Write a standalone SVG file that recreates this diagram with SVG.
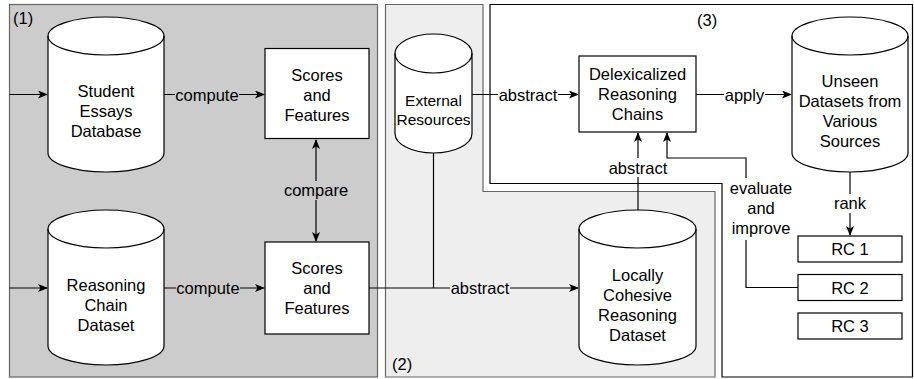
<svg xmlns="http://www.w3.org/2000/svg" width="914" height="379" viewBox="0 0 914 379">
<defs>
<style>
text{font-family:"Liberation Sans",Arial,Helvetica,sans-serif;font-size:16.5px;fill:#000;text-anchor:middle}
.node{fill:#fff;stroke:#000;stroke-width:1.2}
.arc{fill:none;stroke:#000;stroke-width:1.2}
.edge{fill:none;stroke:#000;stroke-width:1.2}
.bg1{fill:#cccccc}
.bg2{fill:#eeeeee}
.bg3{fill:#ffffff}
.lbl{text-anchor:start}
.small{font-size:15.5px}
</style>
<marker id="arr" viewBox="0 0 10 8" markerWidth="10" markerHeight="8" refX="9" refY="4" orient="auto-start-reverse" markerUnits="userSpaceOnUse">
<path d="M0,0 L10,4 L0,8 L2.5,4 Z" fill="#000"/>
</marker>
</defs>

<g id="regions">
<rect id="region1" x="9.5" y="4.5" width="368" height="372.5" fill="#cccccc" stroke="#666666" stroke-width="1.2"/>
<polygon id="region2" points="385.5,4.5 483,4.5 483,191.5 715,191.5 715,377 385.5,377" fill="#eeeeee" stroke="#666666" stroke-width="1.2"/>
<polygon id="region3" points="490,4.5 912.5,4.5 912.5,377 722,377 722,183.5 490,183.5" fill="#ffffff" stroke="#000000" stroke-width="1.2"/>
<text class="lbl" x="13" y="24">(1)</text>
<text class="lbl" x="392" y="370">(2)</text>
<text class="lbl" x="697" y="26">(3)</text>
</g>

<g id="connectors">
<path class="edge" d="M9.5,94.5 L47,94.5" marker-end="url(#arr)"/>
<path class="edge" d="M9.5,288 L47,288" marker-end="url(#arr)"/>
<path class="edge" d="M164,94.5 L264,94.5" marker-end="url(#arr)"/>
<rect class="bg1" x="175" y="85" width="64" height="19"/>
<text x="207" y="100.5">compute</text>
<path class="edge" d="M164,288 L264,288" marker-end="url(#arr)"/>
<rect class="bg1" x="176" y="279" width="64" height="19"/>
<text x="208" y="294">compute</text>
<path class="edge" d="M316,140 L316,241" marker-start="url(#arr)" marker-end="url(#arr)"/>
<rect class="bg1" x="285" y="181" width="62" height="19"/>
<text x="316" y="196">compare</text>
<path class="edge" d="M369,288 L578,288" marker-end="url(#arr)"/>
<path class="edge" d="M433.5,153 L433.5,288"/>
<rect class="bg2" x="450" y="279" width="60" height="19"/>
<text x="480" y="294">abstract</text>
<path class="edge" d="M472,94.5 L578,94.5" marker-end="url(#arr)"/>
<rect class="bg3" x="498" y="85" width="60" height="19"/>
<text x="528" y="100.5">abstract</text>
<path class="edge" d="M696,94.5 L791,94.5" marker-end="url(#arr)"/>
<rect class="bg3" x="724" y="85" width="41" height="19"/>
<text x="744.5" y="100.5">apply</text>
<path class="edge" d="M638,210 L638,133" marker-end="url(#arr)"/>
<rect class="bg3" x="608" y="158" width="60" height="19"/>
<text x="638" y="173.5">abstract</text>
<path class="edge" d="M798,287.5 L746,287.5 L746,158 L667,158 L667,133" marker-end="url(#arr)"/>
<rect class="bg3" x="729" y="178" width="64" height="62"/>
<text x="761" y="194">evaluate</text>
<text x="761" y="214">and</text>
<text x="761" y="234">improve</text>
<path class="edge" d="M850,172 L850,235" marker-end="url(#arr)"/>
<rect class="bg3" x="831" y="194" width="38" height="19"/>
<text x="850" y="209">rank</text>
</g>

<g id="student-essays">
<path class="node" d="M48,36 L48,153 A58,19 0 0 0 164,153 L164,36 A58,19 0 0 0 48,36 Z"/>
<path class="arc" d="M48,36 A58,19 0 0 0 164,36"/>
<text x="106" y="97">Student</text>
<text x="106" y="117">Essays</text>
<text x="106" y="137">Database</text>
</g>

<g id="reasoning-chain">
<path class="node" d="M48,229 L48,346 A58,19 0 0 0 164,346 L164,229 A58,19 0 0 0 48,229 Z"/>
<path class="arc" d="M48,229 A58,19 0 0 0 164,229"/>
<text x="106" y="291">Reasoning</text>
<text x="106" y="311">Chain</text>
<text x="106" y="331">Dataset</text>
</g>

<g id="scores1">
<rect class="node" x="265" y="48.5" width="104" height="90"/>
<text x="317" y="80.5">Scores</text>
<text x="317" y="100.5">and</text>
<text x="317" y="120.5">Features</text>
</g>

<g id="scores2">
<rect class="node" x="265" y="242" width="104" height="92"/>
<text x="317" y="274">Scores</text>
<text x="317" y="294">and</text>
<text x="317" y="314">Features</text>
</g>

<g id="external-resources">
<path class="node" d="M395,53.5 L395,133.5 A38.5,19.5 0 0 0 472,133.5 L472,53.5 A38.5,19.5 0 0 0 395,53.5 Z"/>
<path class="arc" d="M395,53.5 A38.5,19.5 0 0 0 472,53.5"/>
<text class="small" x="433.5" y="105.5">External</text>
<text class="small" x="433.5" y="124.5">Resources</text>
</g>

<g id="delexicalized">
<rect class="node" x="579" y="56" width="117" height="76"/>
<text x="637.5" y="80">Delexicalized</text>
<text x="637.5" y="100">Reasoning</text>
<text x="637.5" y="120">Chains</text>
</g>

<g id="locally-cohesive">
<path class="node" d="M579,229 L579,346 A58.5,19 0 0 0 696,346 L696,229 A58.5,19 0 0 0 579,229 Z"/>
<path class="arc" d="M579,229 A58.5,19 0 0 0 696,229"/>
<text x="637.5" y="281">Locally</text>
<text x="637.5" y="301">Cohesive</text>
<text x="637.5" y="321">Reasoning</text>
<text x="637.5" y="341">Dataset</text>
</g>

<g id="unseen-datasets">
<path class="node" d="M792,36 L792,153 A58,19 0 0 0 908,153 L908,36 A58,19 0 0 0 792,36 Z"/>
<path class="arc" d="M792,36 A58,19 0 0 0 908,36"/>
<text x="850" y="87">Unseen</text>
<text x="850" y="107">Datasets from</text>
<text x="850" y="127">Various</text>
<text x="850" y="147">Sources</text>
</g>

<g id="rc1">
<rect class="node" x="798" y="236" width="104" height="26"/>
<text x="850" y="255">RC 1</text>
</g>
<g id="rc2">
<rect class="node" x="798" y="274.5" width="104" height="26"/>
<text x="850" y="293.5">RC 2</text>
</g>
<g id="rc3">
<rect class="node" x="798" y="313" width="104" height="26"/>
<text x="850" y="332">RC 3</text>
</g>
</svg>
